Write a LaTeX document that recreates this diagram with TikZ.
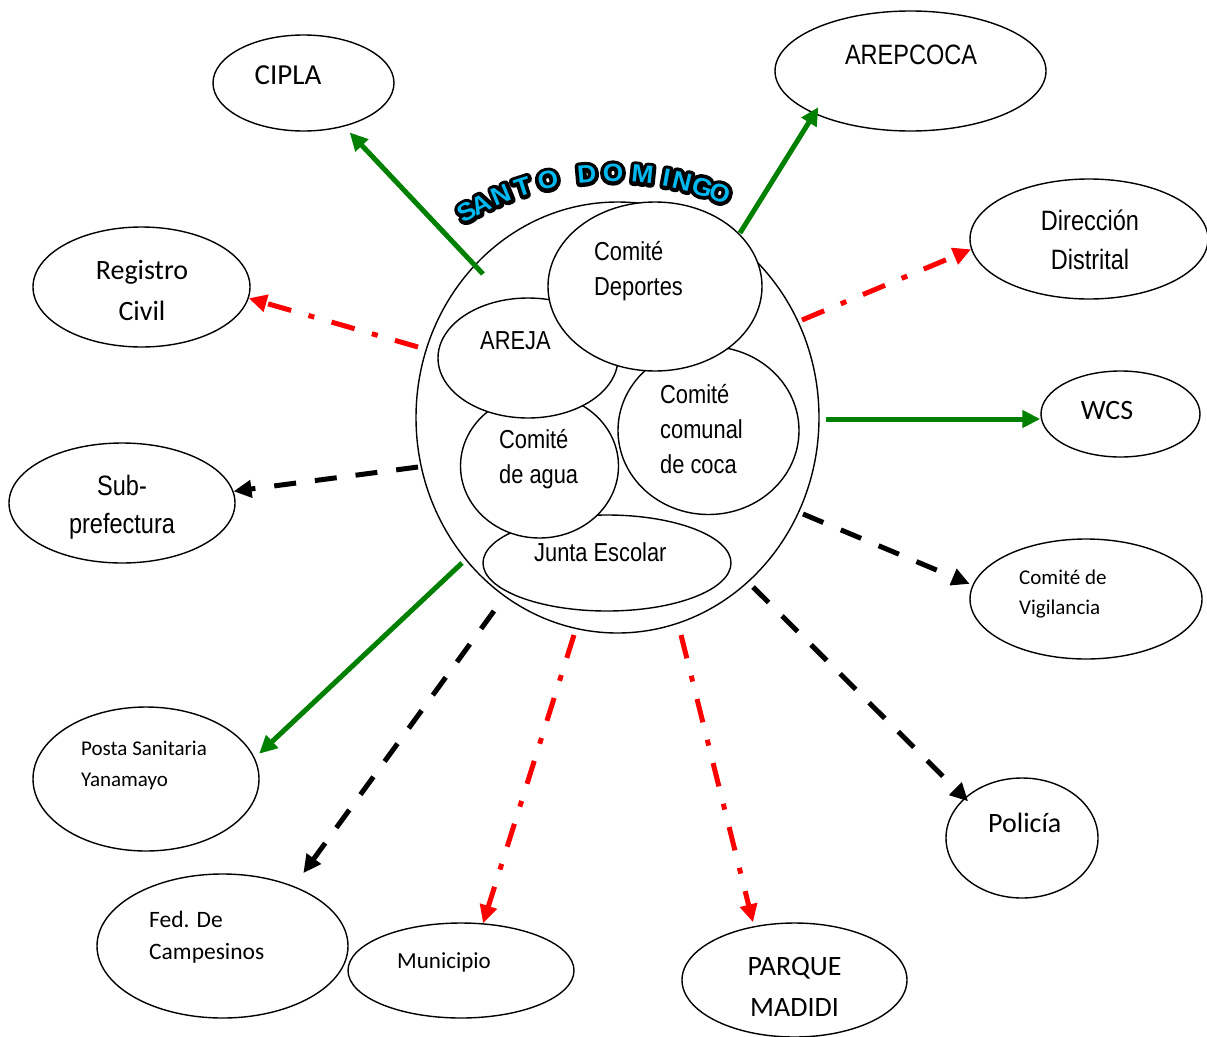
\documentclass[tikz,border=0pt]{standalone}
\usepackage{fontspec}
\setmainfont{Carlito}
\newfontfamily\narrowfont[FakeStretch=0.84]{Liberation Sans}
\newfontfamily\titlefill[FakeStretch=1.05]{Liberation Sans Bold}
\newfontfamily\titleedge[FakeStretch=1.05, FakeBold=30]{Liberation Sans Bold}
\usetikzlibrary{shapes.geometric, arrows.meta, calc}
\definecolor{linkgreen}{RGB}{0,128,0}
\definecolor{titleblue}{RGB}{0,185,240}
\newcommand\fsize[2]{\fontsize{#1}{#2}\selectfont}
\tikzset{
  bubble/.style = {ellipse, draw, fill=white, line width=1.4pt, inner sep=0pt},
  word/.style = {inner sep=0pt, align=left},
  letter/.style = {inner sep=0pt, font=\fsize{25}{28}},
  edge/.style = {-{Triangle[length=18pt,width=17pt]}, line width=5pt},
  greenline/.style = {edge, linkgreen},
  redline/.style = {edge, red, dash pattern=on 24pt off 18pt on 6pt off 18pt},
  blackline/.style = {edge, black, dash pattern=on 22pt off 19pt},
}

\begin{document}
\begin{tikzpicture}[x=1pt, y=-1pt]
\useasboundingbox (0,0) rectangle (1207,1036);

% outer bubbles
\node[bubble, minimum width=181pt, minimum height=96pt] (cipla) at (303.5,83) {};
\node[bubble, minimum width=271pt, minimum height=120pt] (arepcoca) at (910.5,71) {};
\node[bubble, minimum width=217pt, minimum height=120pt] (registro) at (141.5,287) {};
\node[bubble, minimum width=238pt, minimum height=120pt] (direccion) at (1089,239) {};
\node[bubble, minimum width=159pt, minimum height=86pt] (wcs) at (1120.5,414) {};
\node[bubble, minimum width=226pt, minimum height=120pt] (subpref) at (122,503) {};
\node[bubble, minimum width=232pt, minimum height=120pt] (vigilancia) at (1086,599) {};
\node[bubble, minimum width=226pt, minimum height=144pt] (posta) at (146,779) {};
\node[bubble, minimum width=152pt, minimum height=120pt] (policia) at (1022,838) {};
\node[bubble, minimum width=251pt, minimum height=144pt] (fed) at (222.5,946) {};
\node[bubble, minimum width=226pt, minimum height=95pt] (municipio) at (461,970.5) {};
\node[bubble, minimum width=225pt, minimum height=114pt] (parque) at (794.5,980) {};

% Santo Domingo and its groups
\node[bubble, minimum width=403pt, minimum height=431pt] (sd) at (617.5,417.5) {};
\node[bubble, minimum width=248pt, minimum height=96pt] (junta) at (607,563) {};
\node[bubble, minimum width=181pt, minimum height=168pt] (coca) at (708.5,430.5) {};
\node[bubble, minimum width=158pt, minimum height=144pt] (agua) at (539.5,466) {};
\node[bubble, minimum width=180pt, minimum height=120pt] (areja) at (528,358) {};
\node[bubble, minimum width=214pt, minimum height=169pt] (deportes) at (655,286.5) {};

% labels (base = last line)
\node[word, font=\fsize{29}{35}, anchor=base] (cipla-t) at (288,84) {CIPLA};
\node[word, font=\narrowfont\fsize{28}{34}, anchor=base] (arepcoca-t) at (911,64) {AREPCOCA};
\node[word, align=center, font=\fsize{28}{41}, anchor=base] (registro-t) at (142,320) {Registro\\Civil};
\node[word, align=center, font=\narrowfont\fsize{28}{39}, anchor=base] (direccion-t) at (1090,269) {Dirección\\Distrital};
\node[word, font=\fsize{28}{34}, anchor=base] (wcs-t) at (1107,419) {WCS};
\node[word, align=center, font=\narrowfont\fsize{28}{38}, anchor=base] (subpref-t) at (122,533) {Sub-\\prefectura};
\node[word, font=\fsize{21}{30}, anchor=base west] (vigilancia-t) at (1019,614) {Comité de\\Vigilancia};
\node[word, font=\fsize{21}{31}, anchor=base west] (posta-t) at (81,786) {Posta Sanitaria\\Yanamayo};
\node[word, font=\fsize{28}{34}, anchor=base west] (policia-t) at (988,832) {Policía};
\node[word, font=\fsize{23.5}{32}, anchor=base west] (fed-t) at (149,959) {Fed. De\\Campesinos};
\node[word, font=\fsize{23}{30}, anchor=base west] (municipio-t) at (397,968) {Municipio};
\node[word, align=center, font=\fsize{28}{41}, anchor=base] (parque-t) at (794.5,1016) {PARQUE\\MADIDI};

\node[word, font=\narrowfont\fsize{26}{35}, anchor=base west] (deportes-t) at (594,295) {Comité\\Deportes};
\node[word, font=\narrowfont\fsize{26}{35}, anchor=base west] (areja-t) at (480,349) {AREJA};
\node[word, font=\narrowfont\fsize{26}{35}, anchor=base west] (coca-t) at (660,473) {Comité\\comunal\\de coca};
\node[word, font=\narrowfont\fsize{26}{35}, anchor=base west] (agua-t) at (499,483) {Comité\\de agua};
\node[word, font=\narrowfont\fsize{26}{35}, anchor=base west] (junta-t) at (534,561) {Junta Escolar};

% title on its arc
\coordinate (title-c) at (613,467);
\foreach \ch/\ang [count=\i] in {S/119.8, A/116.6, N/112.3, T/107.9, O/102.8, D/95.1,
    O/90, M/84.2, I/79.5, N/76.4, G/72.3, O/68.7}
  \node[letter, rotate=\ang-90] (edge-\i) at ($(title-c)+(-\ang:294)$) {\pgfsetroundjoin\titleedge\ch};
\foreach \ch/\ang [count=\i] in {S/119.8, A/116.6, N/112.3, T/107.9, O/102.8, D/95.1,
    O/90, M/84.2, I/79.5, N/76.4, G/72.3, O/68.7}
  \node[letter, rotate=\ang-90, text=titleblue] (fill-\i) at ($(title-c)+(-\ang:294)$) {\titlefill\ch};

% links
\coordinate (cipla-s) at (483,274);
\coordinate (arepcoca-s) at (740,233);
\coordinate (registro-s) at (418,347);
\coordinate (direccion-s) at (802,320);
\coordinate (wcs-s) at (826,419);
\coordinate (subpref-s) at (418,467);
\coordinate (vigilancia-s) at (803,514);
\coordinate (posta-s) at (462,563);
\coordinate (fed-s) at (494,611);
\coordinate (municipio-s) at (574,635);
\coordinate (parque-s) at (681,635);
\coordinate (policia-s) at (753,587);

\draw[greenline, shorten >=8pt] (cipla-s) -- (cipla.-47);
\draw[greenline, shorten >=-8pt] (arepcoca-s) -- (arepcoca.204);
\draw[redline] (registro-s) -- (registro.-6);
\draw[redline] (direccion-s) -- (direccion.185);
\draw[greenline] (wcs-s) -- (wcs-s -| wcs.west);
\draw[blackline] (subpref-s) -- (subpref.6);
\draw[blackline, shorten >=3pt] (vigilancia-s) -- (vigilancia.173);
\draw[greenline, shorten >=6pt] (posta-s) -- (posta.11);
\draw[blackline, shorten >=16pt] (fed-s) -- (fed.40);
\draw[redline] (municipio-s) -- (municipio.65);
\draw[redline, shorten >=4pt] (parque-s) -- (parque.127);
\draw[blackline, shorten >=-5pt] (policia-s) -- (policia.145);
\end{tikzpicture}
\end{document}
